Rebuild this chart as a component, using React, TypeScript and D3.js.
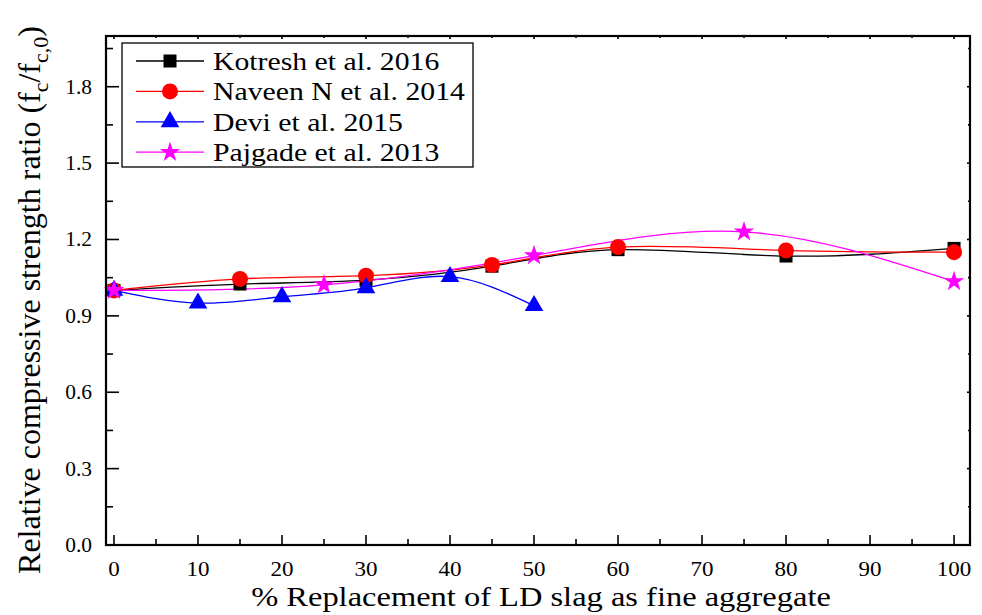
import * as d3 from 'd3'

// % replacement values per study
const kotreshX = [0, 15, 30, 45, 60, 80, 100]
const kotreshY = [1.0, 1.025, 1.04, 1.095, 1.16, 1.135, 1.165]

const naveenX = [0, 15, 30, 45, 60, 80, 100]
const naveenY = [1.0, 1.045, 1.058, 1.1, 1.17, 1.157, 1.15]

const deviX = [0, 10, 20, 30, 40, 50]
const deviY = [1.0, 0.95, 0.975, 1.01, 1.054, 0.94]

const pajgadeX = [0, 25, 50, 75, 100]
const pajgadeY = [1.0, 1.022, 1.137, 1.23, 1.035]

const xTicks = [0, 10, 20, 30, 40, 50, 60, 70, 80, 90, 100]
const yTicks = [0.0, 0.3, 0.6, 0.9, 1.2, 1.5, 1.8]

const legendLabels = ['Kotresh et al. 2016', 'Naveen N et al. 2014', 'Devi et al. 2015', 'Pajgade et al. 2013']

const FONT = '"Liberation Serif", "Times New Roman", serif'

type Shape = 'square' | 'circle' | 'triangle' | 'star'

function Marker({ shape, x, y, color }: { shape: Shape; x: number; y: number; color: string }) {
  if (shape === 'square') return <rect x={x - 6.5} y={y - 6.5} width={13} height={13} fill={color} />
  if (shape === 'circle') return <circle cx={x} cy={y} r={8} fill={color} />
  const sym = shape === 'triangle' ? d3.symbolTriangle : d3.symbolStar
  const size = shape === 'triangle' ? 150 : 130
  return <path d={d3.symbol(sym, size)() || ''} transform={`translate(${x},${y})`} fill={color} />
}

// text stretched horizontally like the source image
function SText({ x, y, sx, size, anchor, children }: { x: number; y: number; sx: number; size: number; anchor?: string; children: any }) {
  return (
    <text transform={`translate(${x},${y}) scale(${sx},1)`} textAnchor={anchor || 'start'}
      fontSize={size} style={{ fontFamily: FONT }}>
      {children}
    </text>
  )
}

export default function App() {
  const width = 982
  const height = 615
  const left = 106
  const right = 970
  const top = 36
  const bottom = 545

  const x = d3.scaleLinear().domain([-0.95, 101.9]).range([left, right])
  const y = d3.scaleLinear().domain([0, 2.0]).range([bottom, bottom - 2.0 * 254.6])

  const series = [
    { xs: kotreshX, ys: kotreshY, color: '#000000', shape: 'square' as Shape },
    { xs: naveenX, ys: naveenY, color: '#ff0000', shape: 'circle' as Shape },
    { xs: deviX, ys: deviY, color: '#0000ff', shape: 'triangle' as Shape },
    { xs: pajgadeX, ys: pajgadeY, color: '#ff00ff', shape: 'star' as Shape },
  ]

  const line = d3.line<[number, number]>()
    .x(d => x(d[0]))
    .y(d => y(d[1]))
    .curve(d3.curveNatural)

  const xMinor = d3.range(0, 101, 5).filter(v => v % 10 !== 0)
  const yMinor = d3.range(0.15, 2.0, 0.3)

  return (
    <svg width={width} height={height} style={{ position: 'absolute', left: 0, top: 0, fontFamily: FONT }}>
      <rect width={width} height={height} fill="#fff" />

      {/* curves */}
      {series.map((s, i) => (
        <path key={i} d={line(s.xs.map((v, j) => [v, s.ys[j]] as [number, number])) || ''}
          fill="none" stroke={s.color} strokeWidth={1.3} />
      ))}

      {/* markers */}
      {series.map((s, i) => s.xs.map((v, j) => (
        <Marker key={`${i}-${j}`} shape={s.shape} x={x(v)} y={y(s.ys[j])} color={s.color} />
      )))}

      {/* frame */}
      <rect x={left} y={top} width={right - left} height={bottom - top} fill="none" stroke="#000" strokeWidth={2.2} />

      {/* x ticks */}
      {xTicks.map(t => (
        <g key={`xt${t}`}>
          <line x1={x(t)} x2={x(t)} y1={bottom} y2={bottom - 10} stroke="#000" strokeWidth={1.6} />
          <line x1={x(t)} x2={x(t)} y1={top} y2={top + 3} stroke="#000" strokeWidth={1.6} />
          <SText x={x(t)} y={576} sx={1.15} size={20} anchor="middle">{t}</SText>
        </g>
      ))}
      {xMinor.map(t => (
        <g key={`xm${t}`}>
          <line x1={x(t)} x2={x(t)} y1={bottom} y2={bottom - 6} stroke="#000" strokeWidth={1.6} />
          <line x1={x(t)} x2={x(t)} y1={top} y2={top + 2} stroke="#000" strokeWidth={1.6} />
        </g>
      ))}

      {/* y ticks */}
      {yTicks.map(t => (
        <g key={`yt${t}`}>
          <line x1={left} x2={left + 13} y1={y(t)} y2={y(t)} stroke="#000" strokeWidth={1.6} />
          <line x1={right} x2={right - 3} y1={y(t)} y2={y(t)} stroke="#000" strokeWidth={1.6} />
          <SText x={92} y={y(t) + 7} sx={1.07} size={20} anchor="end">{t.toFixed(1)}</SText>
        </g>
      ))}
      {yMinor.map(t => (
        <g key={`ym${t.toFixed(2)}`}>
          <line x1={left} x2={left + 7} y1={y(t)} y2={y(t)} stroke="#000" strokeWidth={1.6} />
          <line x1={right} x2={right - 2} y1={y(t)} y2={y(t)} stroke="#000" strokeWidth={1.6} />
        </g>
      ))}

      {/* axis titles */}
      <SText x={541} y={606} sx={1.16} size={28} anchor="middle">
        % Replacement of LD slag as fine aggregate
      </SText>
      <text transform={`translate(40,300) rotate(-90)`} textAnchor="middle" fontSize={32} style={{ fontFamily: FONT }}>
        Relative compressive strength ratio (f
        <tspan dy={8} fontSize={22}>c</tspan>
        <tspan dy={-8}>/f</tspan>
        <tspan dy={8} fontSize={22}>c,0</tspan>
        <tspan dy={-8}>)</tspan>
      </text>

      {/* legend */}
      <rect x={122} y={43} width={351} height={124} fill="#fff" stroke="#000" strokeWidth={1.3} />
      {series.map((s, i) => {
        const ly = 61 + i * 30.4
        return (
          <g key={`lg${i}`}>
            <line x1={136} x2={204} y1={ly} y2={ly} stroke={s.color} strokeWidth={1.3} />
            <Marker shape={s.shape} x={170} y={ly} color={s.color} />
            <SText x={213} y={ly + 9} sx={1.19} size={25}>{legendLabels[i]}</SText>
          </g>
        )
      })}
    </svg>
  )
}
